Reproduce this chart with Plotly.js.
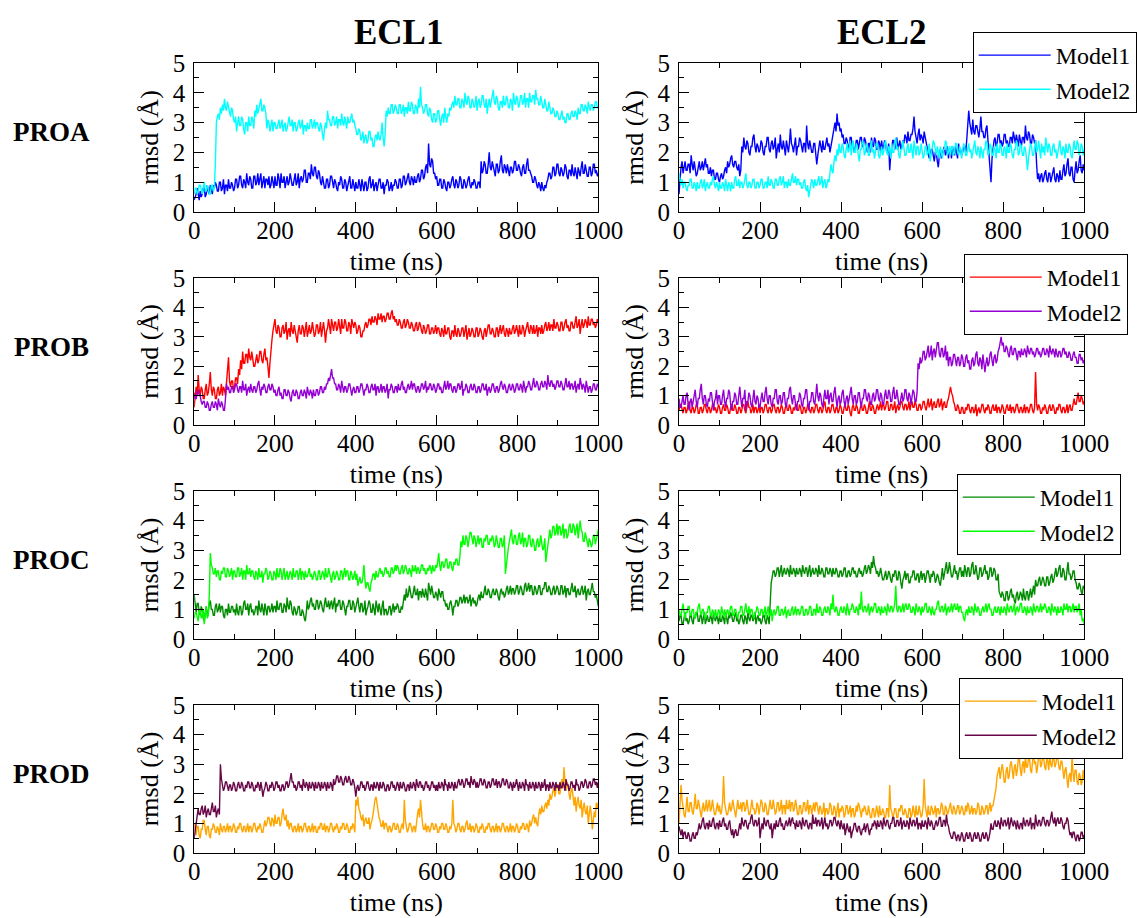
<!DOCTYPE html>
<html><head><meta charset="utf-8">
<script src="https://cdn.plot.ly/plotly-3.0.1.min.js"></script>
<style>html,body{margin:0;padding:0;background:#fff}#chart{width:1137px;height:918px}
#chart text{font-family:"Liberation Serif","Times New Roman",serif !important}</style>
</head><body><div id="chart"></div>
<script>
// time (ns), 2.5 ns sampling
const time = [0,2.5,5,7.5,10,12.5,15,17.5,20,22.5,25,27.5,30,32.5,35,37.5,40,42.5,45,47.5,50,52.5,55,57.5,60,62.5,65,67.5,70,72.5,75,77.5,80,82.5,85,87.5,90,92.5,95,97.5,
100,102.5,105,107.5,110,112.5,115,117.5,120,122.5,125,127.5,130,132.5,135,137.5,140,142.5,145,147.5,150,152.5,155,157.5,160,162.5,165,167.5,170,172.5,175,177.5,180,182.5,185,187.5,190,192.5,195,197.5,
200,202.5,205,207.5,210,212.5,215,217.5,220,222.5,225,227.5,230,232.5,235,237.5,240,242.5,245,247.5,250,252.5,255,257.5,260,262.5,265,267.5,270,272.5,275,277.5,280,282.5,285,287.5,290,292.5,295,297.5,
300,302.5,305,307.5,310,312.5,315,317.5,320,322.5,325,327.5,330,332.5,335,337.5,340,342.5,345,347.5,350,352.5,355,357.5,360,362.5,365,367.5,370,372.5,375,377.5,380,382.5,385,387.5,390,392.5,395,397.5,
400,402.5,405,407.5,410,412.5,415,417.5,420,422.5,425,427.5,430,432.5,435,437.5,440,442.5,445,447.5,450,452.5,455,457.5,460,462.5,465,467.5,470,472.5,475,477.5,480,482.5,485,487.5,490,492.5,495,497.5,
500,502.5,505,507.5,510,512.5,515,517.5,520,522.5,525,527.5,530,532.5,535,537.5,540,542.5,545,547.5,550,552.5,555,557.5,560,562.5,565,567.5,570,572.5,575,577.5,580,582.5,585,587.5,590,592.5,595,597.5,
600,602.5,605,607.5,610,612.5,615,617.5,620,622.5,625,627.5,630,632.5,635,637.5,640,642.5,645,647.5,650,652.5,655,657.5,660,662.5,665,667.5,670,672.5,675,677.5,680,682.5,685,687.5,690,692.5,695,697.5,
700,702.5,705,707.5,710,712.5,715,717.5,720,722.5,725,727.5,730,732.5,735,737.5,740,742.5,745,747.5,750,752.5,755,757.5,760,762.5,765,767.5,770,772.5,775,777.5,780,782.5,785,787.5,790,792.5,795,797.5,
800,802.5,805,807.5,810,812.5,815,817.5,820,822.5,825,827.5,830,832.5,835,837.5,840,842.5,845,847.5,850,852.5,855,857.5,860,862.5,865,867.5,870,872.5,875,877.5,880,882.5,885,887.5,890,892.5,895,897.5,
900,902.5,905,907.5,910,912.5,915,917.5,920,922.5,925,927.5,930,932.5,935,937.5,940,942.5,945,947.5,950,952.5,955,957.5,960,962.5,965,967.5,970,972.5,975,977.5,980,982.5,985,987.5,990,992.5,995,997.5,1000];

// PROA
const proaEcl1Model1 = [0.4,0.5,0.6,0.8,0.5,0.4,0.7,0.5,0.6,0.8,0.8,0.5,0.6,0.9,0.7,0.6,0.9,0.7,0.6,0.9,0.8,1.0,0.9,0.7,0.7,1.0,1.0,0.7,0.8,1.1,0.6,0.9,0.9,0.7,1.1,0.8,0.8,1.0,0.9,0.7,
0.8,1.1,1.1,0.8,0.9,1.2,1.2,0.9,0.8,1.1,1.0,0.8,1.3,1.0,0.9,1.2,1.1,0.8,0.8,1.2,1.2,0.9,1.0,1.3,0.9,1.1,1.3,0.8,1.0,1.2,0.8,1.1,1.1,0.9,1.2,0.8,0.9,1.2,1.0,0.8,
1.2,0.9,0.9,1.3,1.1,0.8,1.3,1.0,1.0,1.2,0.8,1.1,1.2,0.9,1.0,1.3,1.1,0.9,0.9,1.2,1.3,0.9,1.0,1.3,0.8,1.1,1.2,1.0,1.1,1.4,1.4,1.0,1.0,1.3,1.3,1.1,1.6,1.3,1.2,1.5,
1.5,1.2,1.1,1.4,1.3,1.0,0.9,1.2,1.0,0.8,0.8,1.1,1.1,0.8,0.9,1.2,1.2,0.9,0.8,1.1,1.0,0.8,0.7,1.0,0.9,1.2,1.1,0.8,0.8,1.1,1.0,0.7,0.9,1.1,1.2,0.8,0.8,1.1,0.9,0.7,
1.0,0.8,0.8,1.1,0.9,0.7,1.1,0.8,0.7,1.0,1.0,0.7,0.8,1.1,1.2,0.8,0.9,1.1,0.7,0.9,1.0,0.7,0.9,1.1,1.1,0.8,0.8,1.0,0.6,0.9,0.9,1.1,1.0,0.7,0.8,1.0,0.7,0.9,0.9,1.1,
1.0,0.8,0.8,1.1,1.1,0.8,0.9,1.2,1.2,0.9,1.0,1.2,1.3,1.0,0.9,1.2,1.1,0.9,1.2,1.0,1.0,1.2,1.3,1.0,1.1,1.4,1.4,1.1,1.2,1.5,1.6,1.3,2.3,1.6,1.5,1.8,1.7,1.3,1.3,1.1,
1.2,0.9,0.9,1.1,1.1,0.8,0.8,1.1,1.0,0.8,0.7,1.0,1.0,0.8,0.9,1.1,1.2,0.9,0.8,1.1,1.0,0.8,0.9,1.2,1.1,0.8,0.8,1.1,1.0,0.8,0.9,1.1,1.2,0.9,0.8,1.0,0.9,1.1,1.0,0.8,
0.8,1.0,1.0,0.8,1.7,1.3,1.4,1.7,1.6,1.3,1.3,1.6,2.0,1.5,1.4,1.7,1.5,1.3,1.2,1.6,1.6,1.3,1.4,1.7,1.9,1.4,1.3,1.6,1.5,1.3,1.6,1.4,1.2,1.5,1.5,1.3,1.4,1.7,1.7,1.4,
1.4,1.6,1.5,1.3,1.2,1.5,1.6,1.3,1.3,1.6,1.8,1.4,1.4,1.3,1.2,1.0,1.0,1.2,1.1,0.9,0.8,1.0,0.9,0.7,1.0,0.8,0.7,0.9,0.8,1.0,1.1,1.3,1.3,1.1,1.2,1.5,1.5,1.2,1.3,1.6,
1.6,1.3,1.2,1.5,1.4,1.2,1.3,1.6,1.5,1.2,1.1,1.4,1.4,1.2,1.6,1.3,1.2,1.5,1.3,1.1,1.5,1.3,1.2,1.5,1.7,1.3,1.3,1.6,1.4,1.2,1.2,1.5,1.5,1.2,1.3,1.6,1.6,1.3,1.4,1.2,1.3];
const proaEcl1Model2 = [0.6,0.8,0.8,0.6,0.7,0.9,0.9,0.7,0.6,0.8,1.0,0.7,0.7,0.9,0.8,0.6,0.6,0.9,0.9,0.7,0.8,1.6,3.0,3.2,3.3,3.1,3.5,3.3,3.6,3.4,3.8,3.5,3.4,3.7,3.5,3.3,3.2,3.5,3.4,3.1,
3.0,3.2,2.7,3.0,3.2,2.9,2.9,3.2,3.1,2.8,2.6,3.0,3.0,2.7,3.2,2.9,2.9,3.2,3.1,2.8,3.4,3.2,3.6,3.3,3.5,3.7,3.8,3.4,3.4,3.6,3.5,3.3,2.8,3.1,3.0,2.7,2.9,3.1,2.7,3.0,
3.0,2.8,2.8,3.0,3.1,2.8,2.9,3.1,2.7,2.9,3.0,2.7,2.8,3.0,3.2,2.9,2.9,3.1,2.7,3.0,3.0,2.7,2.8,3.0,3.1,2.8,2.9,3.1,2.6,2.9,2.9,2.7,3.0,2.8,2.8,3.1,3.1,2.8,2.9,3.1,
2.8,3.0,3.0,2.8,2.7,3.0,2.9,2.6,2.4,2.8,3.0,2.8,3.4,3.1,3.1,2.9,2.9,3.2,3.2,2.9,3.0,3.2,2.8,3.1,3.1,2.9,3.3,3.0,2.9,3.2,3.0,2.8,3.2,3.0,3.0,3.2,3.3,3.0,3.1,2.9,
2.8,2.6,2.6,2.8,2.7,2.4,2.5,2.7,2.3,2.5,2.6,2.3,2.4,2.7,2.7,2.4,2.5,2.2,2.2,2.5,2.6,2.4,2.7,2.5,2.4,2.6,3.0,2.5,2.2,2.6,3.4,3.2,3.5,3.3,3.3,3.6,3.6,3.3,3.4,3.6,
3.5,3.3,3.3,3.6,3.6,3.3,3.4,3.6,3.2,3.5,3.5,3.3,3.7,3.4,3.4,3.7,3.6,3.3,3.3,3.6,3.5,3.3,3.8,3.5,4.2,3.6,3.5,3.3,3.4,3.6,3.6,3.3,3.2,3.5,3.4,3.1,3.0,3.3,3.3,3.0,
3.1,3.4,3.4,3.1,2.9,3.2,3.3,3.0,3.5,3.2,3.0,3.3,3.2,3.5,3.4,3.6,3.7,3.5,3.9,3.6,3.6,3.8,3.8,3.5,3.5,3.8,3.7,3.5,4.0,3.7,3.6,3.9,3.8,3.5,3.5,3.8,3.7,3.5,3.6,3.9,
3.4,3.7,3.8,3.5,3.6,3.9,3.9,3.6,3.5,3.8,3.3,3.6,3.8,3.5,3.7,4.0,4.1,3.7,3.6,3.9,3.8,3.5,3.4,3.7,3.7,3.5,3.9,3.6,3.6,3.9,3.8,3.5,3.5,3.8,3.7,3.4,4.0,3.7,3.6,3.9,
3.8,3.5,3.6,3.9,3.9,3.6,3.7,4.0,3.5,3.8,3.8,3.5,4.0,3.7,3.7,3.9,3.9,3.6,4.1,3.8,3.8,3.6,3.6,3.9,3.7,3.5,3.5,3.8,3.6,3.4,3.4,3.7,3.5,3.3,3.3,3.5,3.4,3.2,3.2,3.4,
3.3,3.1,3.1,3.3,3.4,3.1,3.2,3.0,3.0,3.3,3.3,3.1,3.1,3.3,3.4,3.2,3.2,3.4,3.3,3.1,3.5,3.3,3.3,3.6,3.6,3.4,3.4,3.6,3.5,3.3,3.7,3.5,3.4,3.6,3.6,3.4,3.5,3.7,3.7,3.5,3.5];
const proaEcl2Model1 = [0.6,1.2,1.5,1.7,1.3,1.5,1.7,1.4,1.4,1.6,1.6,1.3,1.9,1.6,1.4,1.7,1.5,1.2,1.3,1.6,1.7,1.4,1.5,1.7,1.4,1.6,1.8,1.5,1.6,1.3,1.3,1.5,1.2,1.4,1.4,1.1,1.1,1.3,1.3,1.1,
1.0,1.2,1.3,1.1,1.2,1.4,1.5,1.3,1.7,1.5,1.6,1.8,1.9,1.6,1.5,1.7,1.7,1.5,1.4,1.6,1.2,1.4,2.2,2.0,2.5,2.2,2.1,2.4,2.3,2.0,1.9,2.2,2.2,2.5,2.6,2.2,2.0,2.3,2.2,2.0,
2.1,2.4,2.3,2.0,1.9,2.2,2.2,2.5,2.5,2.1,2.0,2.3,2.4,2.1,2.2,2.5,1.8,2.1,2.3,2.0,2.6,2.2,2.1,2.4,2.2,1.9,2.4,2.1,2.0,2.3,2.8,2.3,2.2,2.0,2.3,2.5,1.9,2.2,2.2,2.5,
2.4,2.1,2.0,2.3,2.3,2.0,2.9,2.3,2.1,2.4,2.2,2.0,2.0,2.3,2.3,2.0,1.6,1.9,2.1,2.4,2.2,2.0,2.4,2.1,2.1,2.4,2.5,2.2,2.3,2.0,2.2,2.5,2.6,2.8,3.0,2.7,3.3,2.9,3.0,2.7,
2.8,2.5,2.6,2.3,2.3,2.5,2.4,2.1,2.2,2.5,2.5,2.2,2.3,2.0,2.1,2.4,2.4,2.1,2.3,2.5,2.5,2.2,2.2,2.5,2.4,2.1,2.0,2.3,2.3,2.0,2.5,2.2,2.2,2.5,2.4,2.1,2.1,2.4,2.3,2.0,
2.4,2.1,2.2,2.4,2.3,2.0,2.0,2.3,1.4,1.9,2.2,2.4,2.4,2.1,2.3,2.5,2.1,2.3,2.4,2.1,2.2,2.4,2.3,2.6,2.5,2.3,2.7,2.4,2.4,2.6,2.6,2.8,3.2,2.7,2.5,2.3,2.6,2.8,2.4,2.6,
2.5,2.3,2.7,2.5,2.4,2.2,2.0,1.8,1.9,2.1,2.1,1.8,1.7,2.0,2.0,1.7,1.5,1.9,2.1,1.8,1.9,2.1,2.2,1.9,2.0,2.2,1.8,2.1,2.1,1.8,2.2,2.0,1.9,2.2,2.0,1.8,2.3,2.0,2.1,1.9,
2.0,2.2,2.2,2.0,2.4,2.8,3.4,3.0,2.8,2.6,3.1,2.7,2.6,2.9,2.9,2.6,2.5,2.8,3.2,2.7,2.7,2.5,2.5,2.8,2.9,2.4,1.8,1.4,1.0,1.8,2.2,2.4,2.5,2.2,2.3,2.6,2.6,2.3,2.4,2.2,
2.3,2.6,2.6,2.3,2.4,2.2,2.2,2.5,2.5,2.3,2.7,2.4,2.3,2.6,2.4,2.2,2.6,2.3,2.2,2.5,2.5,2.3,2.9,2.5,2.4,2.7,2.6,2.3,2.3,2.6,2.5,2.3,2.4,1.6,1.1,1.3,1.0,1.2,1.3,1.0,
1.1,1.3,1.4,1.1,1.0,1.3,1.3,1.0,1.2,1.4,1.5,1.1,1.0,1.3,1.2,1.0,1.4,1.1,1.1,1.4,1.6,1.2,1.3,1.6,1.8,1.3,1.2,1.5,1.5,1.1,1.0,1.4,1.7,1.3,1.4,1.7,1.9,1.4,1.3,1.6,1.4];
const proaEcl2Model2 = [1.3,1.0,0.9,1.1,0.8,1.0,1.0,0.8,0.7,0.9,0.9,1.1,1.1,0.8,0.8,1.0,0.9,0.7,1.0,0.8,0.8,1.0,1.1,0.8,0.9,1.1,0.7,0.9,1.0,0.8,0.8,1.0,0.9,1.1,1.2,0.9,0.8,1.0,0.9,0.7,
1.0,0.8,0.8,1.0,0.9,0.7,1.1,0.9,0.7,1.0,0.9,0.7,1.0,0.8,0.8,1.1,1.2,0.9,0.9,1.1,0.8,1.0,1.0,0.8,0.9,1.1,1.3,0.9,0.8,1.0,1.0,0.8,0.9,1.1,1.1,0.8,0.8,1.0,1.0,0.8,
0.9,1.1,1.1,0.8,0.8,1.0,1.0,0.8,1.2,0.9,0.9,1.1,1.0,0.8,0.8,1.1,1.1,0.9,0.9,1.1,1.2,0.9,1.0,1.2,0.8,1.0,1.0,0.8,1.1,0.9,0.9,1.1,1.3,1.0,1.0,1.2,0.9,1.1,1.1,0.9,
1.0,0.8,0.8,1.0,1.1,0.8,0.7,0.9,0.5,0.7,0.9,1.1,1.0,0.8,1.1,0.9,0.9,1.1,1.2,0.9,1.0,1.2,0.8,1.0,1.1,0.8,0.9,1.1,1.0,1.3,1.6,1.4,1.3,1.7,1.9,1.7,2.1,1.9,2.3,2.0,
2.0,2.3,2.2,1.9,1.8,2.1,2.3,2.0,2.1,2.4,1.9,2.2,2.4,2.0,2.0,2.3,2.2,1.9,1.7,2.1,2.1,2.4,2.3,1.9,2.0,2.3,2.2,1.9,1.9,2.2,2.4,2.0,2.1,1.8,2.0,2.3,2.3,1.9,1.8,2.1,
2.2,1.9,2.0,2.3,2.4,2.0,1.9,2.2,2.1,1.8,2.3,2.0,2.0,2.3,2.5,2.1,2.2,1.9,1.8,2.1,2.1,2.4,2.2,1.9,1.9,2.2,2.3,2.0,2.0,2.3,2.1,1.8,2.4,2.1,1.9,2.2,2.2,1.9,2.0,2.3,
2.1,1.8,1.9,2.2,2.2,1.9,2.0,2.3,1.7,2.0,2.1,2.4,2.3,2.0,1.9,2.2,2.0,1.8,2.2,2.0,1.8,2.1,2.1,2.4,2.3,1.9,2.0,2.2,1.9,2.2,2.2,1.9,2.0,2.3,2.3,2.0,1.9,2.2,2.1,1.8,
2.0,2.3,2.2,1.9,1.9,2.2,2.3,2.0,2.1,1.8,2.0,2.3,2.4,2.0,1.9,2.2,2.1,1.8,2.2,2.0,1.8,2.1,2.1,2.4,2.3,1.9,2.0,2.3,2.2,1.9,1.9,2.2,2.1,1.8,2.3,2.0,2.0,2.3,2.2,1.9,
1.9,2.2,2.1,1.8,2.3,2.0,2.0,2.3,2.2,1.9,1.8,2.1,2.1,2.4,2.3,1.9,2.0,2.3,2.2,1.9,1.9,2.2,2.1,1.8,1.4,1.8,2.0,2.3,2.2,1.9,1.9,2.2,2.4,2.0,2.1,2.4,2.0,1.8,2.3,2.0,
2.2,1.9,2.5,2.2,2.0,2.3,2.2,1.9,1.9,2.2,2.3,2.0,2.1,1.8,2.0,2.3,2.4,2.0,1.9,2.2,2.1,1.8,2.3,2.0,2.0,2.3,2.2,1.9,1.8,2.1,2.4,2.1,2.1,2.4,2.3,1.9,2.0,2.3,2.2,1.9,2.1];

// PROB
const probEcl1Model1 = [0.6,1.0,1.3,1.0,1.7,1.2,1.0,1.3,1.2,0.9,0.9,1.2,1.4,1.0,1.1,1.4,1.8,1.2,1.0,1.3,1.2,0.9,0.9,1.2,1.3,1.0,1.1,1.4,1.0,1.3,1.2,1.0,1.4,1.9,2.3,1.5,1.3,1.5,1.5,1.2,
1.3,1.6,1.6,1.4,1.9,1.7,2.2,1.9,2.5,2.1,2.1,2.4,2.4,2.1,2.6,2.3,2.2,2.5,2.3,2.0,2.0,2.3,2.4,2.1,2.2,2.5,2.5,2.2,2.1,2.4,2.6,2.2,2.3,2.0,1.6,2.1,2.6,2.9,3.2,3.5,
3.6,3.2,3.1,3.4,3.3,3.0,3.0,3.3,3.4,3.1,3.2,3.5,2.9,3.2,3.3,3.0,3.5,3.2,3.1,3.4,3.2,2.9,2.8,3.2,3.4,3.1,3.1,3.4,3.3,3.0,3.2,3.5,3.0,3.3,3.4,3.1,3.2,3.5,3.3,3.0,
3.1,3.4,3.4,3.1,3.2,3.5,3.0,3.3,3.5,3.2,2.8,3.2,3.3,3.6,3.4,3.1,3.6,3.3,3.2,3.5,3.5,3.2,3.3,3.6,3.4,3.1,3.6,3.3,3.3,3.6,3.5,3.2,3.2,3.5,3.4,3.1,3.6,3.4,3.3,3.5,
3.4,3.1,3.2,3.4,3.3,3.0,3.0,3.2,3.2,3.4,3.5,3.3,3.4,3.6,3.6,3.4,3.7,3.5,3.5,3.7,3.6,3.4,3.8,3.6,3.6,3.8,3.5,3.7,3.7,3.5,3.6,3.8,3.8,3.6,3.6,3.8,3.9,3.6,3.7,3.5,
3.6,3.4,3.4,3.6,3.5,3.3,3.3,3.5,3.6,3.3,3.4,3.6,3.5,3.3,3.3,3.5,3.4,3.2,3.2,3.4,3.5,3.2,3.3,3.5,3.4,3.2,3.1,3.4,3.3,3.1,3.2,3.4,3.4,3.1,3.1,3.3,3.3,3.1,3.2,3.4,
3.1,3.3,3.3,3.1,3.0,3.3,3.2,3.0,3.4,3.1,3.1,3.3,3.3,3.0,2.9,3.2,3.2,3.0,3.4,3.1,3.0,3.3,3.2,3.0,3.1,3.3,3.3,3.0,3.2,3.4,2.9,3.2,3.3,3.0,3.1,3.3,3.2,3.0,3.0,3.3,
3.3,3.0,3.1,3.3,3.2,3.0,2.9,3.2,3.3,3.0,3.2,3.4,3.4,3.1,3.1,3.3,3.2,3.0,3.0,3.3,3.3,3.0,3.2,3.4,3.1,3.3,3.4,3.1,3.0,3.3,3.2,3.0,3.3,3.1,3.1,3.3,3.4,3.1,3.2,3.4,
3.2,3.0,3.4,3.1,3.1,3.4,3.3,3.0,3.2,3.4,3.5,3.2,3.1,3.4,3.3,3.1,3.4,3.1,3.2,3.4,3.0,3.3,3.3,3.1,3.4,3.1,3.2,3.4,3.5,3.2,3.3,3.5,3.2,3.4,3.4,3.2,3.6,3.3,3.3,3.5,
3.4,3.2,3.2,3.5,3.5,3.2,3.3,3.5,3.6,3.3,3.4,3.2,3.2,3.5,3.5,3.3,3.3,3.5,3.7,3.3,3.4,3.6,3.1,3.4,3.6,3.3,3.4,3.6,3.5,3.3,3.7,3.4,3.4,3.6,3.6,3.4,3.5,3.3,3.4,3.6,3.5];
const probEcl1Model2 = [1.1,0.9,0.9,1.1,1.2,1.0,1.0,0.8,0.7,0.8,0.8,0.6,0.6,0.8,0.7,0.5,0.5,0.7,0.8,0.6,0.6,0.8,0.7,0.5,0.9,0.7,0.6,0.8,0.7,0.5,0.5,0.9,1.4,1.2,1.3,1.1,1.1,1.3,1.3,1.1,
1.2,1.4,1.4,1.2,1.1,1.3,1.3,1.1,1.5,1.2,1.2,1.4,1.0,1.2,1.3,1.1,1.4,1.2,1.1,1.3,1.3,1.1,1.2,1.4,1.5,1.2,1.0,1.3,1.2,1.4,1.3,1.1,1.1,1.3,1.4,1.2,1.2,1.4,1.3,1.1,
1.2,1.0,1.0,1.2,1.3,1.0,1.1,0.9,0.9,1.2,1.2,1.0,1.0,1.2,1.1,0.9,0.8,1.1,1.2,1.0,1.0,1.2,1.1,0.9,0.9,1.1,1.2,1.0,1.0,1.2,1.1,0.9,1.3,1.1,1.0,1.2,1.1,0.9,1.2,1.0,
1.0,1.2,1.2,1.0,1.1,1.3,1.3,1.1,1.1,1.3,1.2,1.4,1.4,1.6,1.5,1.7,1.9,1.6,1.6,1.4,1.4,1.2,1.2,1.4,1.3,1.1,1.5,1.3,1.1,1.3,1.3,1.1,1.2,1.4,1.4,1.2,1.0,1.2,1.3,1.1,
1.1,1.3,1.3,1.1,1.2,1.4,1.4,1.2,1.0,1.2,1.2,1.4,1.3,1.1,1.1,1.3,1.4,1.2,1.2,1.4,1.0,1.3,1.3,1.1,1.2,1.4,1.1,1.3,1.3,1.1,1.2,1.4,0.9,1.2,1.2,1.4,1.3,1.1,1.1,1.3,
1.3,1.1,1.4,1.2,1.2,1.4,1.5,1.2,1.3,1.1,1.1,1.3,1.4,1.2,1.3,1.5,1.2,1.4,1.4,1.2,1.1,1.3,1.3,1.1,1.2,1.4,1.4,1.2,1.3,1.5,1.1,1.3,1.2,1.4,1.4,1.2,1.2,1.4,1.3,1.1,
1.2,1.4,1.4,1.2,1.3,1.1,1.1,1.3,1.5,1.2,1.3,1.5,1.2,1.4,1.4,1.2,1.1,1.3,1.3,1.1,1.2,1.4,1.4,1.2,1.3,1.5,1.0,1.2,1.2,1.4,1.3,1.1,1.1,1.3,1.4,1.2,1.2,1.4,1.3,1.1,
1.1,1.3,1.3,1.1,1.2,1.4,1.4,1.2,1.2,1.4,1.0,1.2,1.3,1.1,1.2,1.4,1.4,1.2,1.1,1.3,1.3,1.1,1.2,1.4,1.5,1.3,1.2,1.4,1.3,1.1,1.1,1.3,1.4,1.2,1.2,1.4,1.3,1.1,1.2,1.4,
1.4,1.2,1.2,1.4,1.3,1.1,1.5,1.3,1.1,1.3,1.3,1.5,1.4,1.2,1.2,1.4,1.6,1.3,1.3,1.5,1.4,1.2,1.2,1.4,1.5,1.3,1.3,1.5,1.4,1.2,1.7,1.4,1.3,1.5,1.5,1.3,1.4,1.2,1.3,1.5,
1.5,1.3,1.3,1.5,1.4,1.2,1.2,1.4,1.6,1.3,1.3,1.5,1.2,1.4,1.4,1.2,1.3,1.5,1.1,1.3,1.4,1.2,1.6,1.4,1.2,1.4,1.3,1.1,1.5,1.3,1.1,1.3,1.3,1.1,1.2,1.4,1.4,1.2,1.2,1.4,1.3];
const probEcl2Model1 = [0.5,0.7,0.7,0.5,0.4,0.6,0.6,0.4,0.5,0.7,0.8,0.5,0.4,0.6,0.6,0.4,0.5,0.7,0.7,0.4,0.4,0.6,0.6,0.4,0.5,0.7,0.7,0.5,0.4,0.6,0.6,0.4,0.5,0.7,0.7,0.5,0.6,0.4,0.5,0.7,
0.6,0.4,0.4,0.6,0.7,0.5,0.5,0.7,0.6,0.4,0.4,0.6,0.7,0.5,0.5,0.7,0.6,0.4,0.4,0.6,0.6,0.4,0.5,0.7,0.7,0.5,0.4,0.6,0.8,0.6,0.6,0.4,0.5,0.7,0.4,0.6,0.6,0.4,0.5,0.7,
0.4,0.6,0.6,0.4,0.5,0.7,0.7,0.5,0.4,0.6,0.6,0.4,0.5,0.7,0.7,0.5,0.4,0.6,0.6,0.4,0.5,0.7,0.6,0.4,0.4,0.6,0.7,0.5,0.5,0.7,0.6,0.4,0.4,0.6,0.5,0.7,0.7,0.5,0.5,0.7,
0.6,0.4,0.4,0.6,0.6,0.4,0.5,0.7,0.7,0.5,0.4,0.6,0.6,0.4,0.5,0.7,0.7,0.5,0.4,0.6,0.6,0.4,0.5,0.7,0.8,0.5,0.4,0.6,0.6,0.4,0.5,0.7,0.7,0.5,0.4,0.6,0.6,0.4,0.5,0.7,
0.6,0.4,0.4,0.6,0.7,0.5,0.5,0.7,0.6,0.4,0.3,0.6,0.7,0.5,0.5,0.7,0.6,0.4,0.4,0.6,0.7,0.5,0.5,0.7,0.6,0.4,0.4,0.6,0.8,0.5,0.5,0.7,0.6,0.4,0.4,0.6,0.7,0.5,0.6,0.8,
0.5,0.7,0.7,0.5,0.6,0.8,0.8,0.5,0.5,0.7,0.7,0.5,0.6,0.8,0.4,0.6,0.7,0.5,0.6,0.8,0.8,0.6,0.5,0.7,0.7,0.5,0.6,0.8,0.5,0.7,0.8,0.6,0.6,0.8,0.7,0.5,0.5,0.7,0.7,0.5,
0.6,0.8,0.8,0.6,0.5,0.7,0.9,0.6,0.7,0.9,0.5,0.7,0.8,0.6,0.6,0.8,0.9,0.6,0.7,0.9,0.5,0.7,0.8,0.6,0.6,0.8,0.9,1.1,1.3,1.1,1.0,0.8,0.7,0.5,0.5,0.7,0.6,0.4,0.4,0.6,
0.6,0.4,0.4,0.6,0.5,0.7,0.7,0.5,0.4,0.6,0.6,0.4,0.5,0.7,0.3,0.5,0.6,0.4,0.5,0.7,0.7,0.5,0.4,0.6,0.5,0.7,0.6,0.4,0.4,0.6,0.7,0.5,0.5,0.7,0.4,0.6,0.6,0.4,0.5,0.7,
0.6,0.4,0.4,0.6,0.7,0.5,0.5,0.7,0.4,0.6,0.6,0.4,0.5,0.7,0.7,0.5,0.4,0.6,0.6,0.4,0.5,0.7,0.4,0.6,0.6,0.4,0.5,0.7,0.7,0.5,0.4,0.6,1.8,0.7,0.5,0.7,0.6,0.4,0.4,0.6,
0.5,0.7,0.6,0.4,0.4,0.6,0.7,0.5,0.5,0.7,0.6,0.4,0.4,0.6,0.5,0.7,0.7,0.5,0.4,0.6,0.6,0.4,0.5,0.7,0.4,0.6,0.7,0.5,0.5,0.7,0.9,0.7,0.7,0.9,1.1,0.8,0.8,1.0,0.9,0.7,0.8];
const probEcl2Model2 = [0.9,0.6,0.6,0.9,1.0,0.7,0.7,1.0,1.1,0.7,0.5,0.8,0.9,0.6,0.8,1.1,1.2,0.8,0.6,0.9,0.9,1.2,1.4,0.9,0.7,1.0,1.0,0.7,0.6,0.9,0.8,1.1,1.1,0.8,0.5,0.8,0.9,1.2,0.7,1.0,
1.0,0.7,0.7,1.0,1.2,0.8,0.6,0.9,0.9,1.2,1.1,0.7,0.5,0.8,0.8,1.1,1.0,0.7,0.7,1.0,1.3,0.9,0.6,0.9,0.9,1.2,0.5,0.8,0.8,1.1,1.0,0.7,0.6,0.9,1.2,0.8,0.7,1.0,0.9,0.6,
0.6,0.9,1.1,0.8,0.8,1.1,1.3,0.9,0.7,1.0,1.0,0.7,0.6,0.9,0.9,1.2,1.2,0.8,0.7,1.0,1.0,0.7,0.8,1.1,1.1,0.7,0.6,0.9,0.9,1.2,1.3,0.9,0.7,1.0,1.0,0.7,0.5,0.8,0.8,1.1,
1.0,0.7,0.6,0.9,0.9,1.2,1.2,0.8,0.5,0.8,0.8,1.1,1.1,0.8,0.7,1.0,1.4,1.0,0.8,1.1,1.0,0.7,0.6,0.9,1.2,0.9,0.9,1.2,0.7,1.0,1.1,0.8,0.8,1.1,1.3,0.9,0.6,0.9,1.0,0.7,
0.8,1.1,1.2,0.8,0.6,0.9,1.0,0.7,0.9,1.2,1.3,0.9,0.7,1.0,1.0,0.7,0.8,1.1,1.1,0.8,0.6,0.9,0.9,1.2,1.2,0.9,0.8,1.1,1.0,0.7,0.7,1.0,1.1,0.8,0.9,1.2,1.2,0.9,0.8,1.1,
1.0,0.7,0.7,1.0,1.2,0.9,0.9,1.2,1.1,0.8,0.8,1.1,1.3,0.9,0.9,1.2,1.0,0.7,0.7,1.0,1.1,0.8,0.9,1.2,1.2,0.9,0.8,1.1,1.0,0.7,0.9,1.2,1.1,0.8,0.8,1.1,2.1,1.9,2.3,2.1,
2.2,2.5,2.5,2.2,2.3,2.6,2.7,2.3,2.4,2.7,2.2,2.5,2.6,2.3,2.5,2.8,2.8,2.4,2.3,2.6,2.6,2.3,2.4,2.7,2.2,2.5,2.0,2.3,2.3,2.0,2.1,2.4,2.4,2.1,2.0,2.3,2.3,2.0,2.1,2.4,
2.3,2.0,2.0,2.3,2.4,2.1,2.2,1.9,1.9,2.2,2.3,2.0,2.1,2.4,2.5,2.1,2.0,2.3,2.2,1.9,2.4,2.1,1.8,2.1,2.3,2.0,2.1,2.4,2.5,2.2,2.0,2.3,2.4,2.1,2.2,2.5,2.6,2.8,3.0,2.7,
2.8,2.5,2.5,2.7,2.6,2.4,2.3,2.6,2.7,2.4,2.4,2.6,2.6,2.4,2.2,2.5,2.5,2.3,2.6,2.4,2.4,2.6,2.5,2.3,2.7,2.5,2.4,2.6,2.6,2.4,2.5,2.3,2.4,2.6,2.6,2.4,2.5,2.3,2.4,2.6,
2.6,2.4,2.4,2.6,2.5,2.3,2.7,2.5,2.4,2.6,2.5,2.3,2.6,2.4,2.3,2.5,2.5,2.3,2.4,2.6,2.6,2.4,2.5,2.3,2.3,2.5,2.4,2.2,2.2,2.4,2.5,2.3,2.3,2.1,2.1,2.4,2.4,2.2,2.3,2.1,2.2];

// PROC
const procEcl1Model1 = [1.5,1.1,0.9,1.2,1.2,0.9,0.8,1.1,1.0,0.7,0.6,0.9,1.1,0.8,0.9,1.2,1.3,1.0,1.0,0.8,0.8,1.1,1.2,0.9,1.0,1.2,0.9,1.1,1.1,0.8,0.7,1.0,1.0,0.8,1.2,0.9,0.9,1.1,1.1,0.9,
1.0,0.8,1.2,0.9,0.8,1.1,1.1,0.8,0.9,1.2,1.3,1.0,1.0,1.2,0.8,1.1,1.2,0.9,1.0,0.8,0.9,1.1,1.1,0.8,1.3,1.0,0.9,1.2,1.0,0.8,1.2,1.0,0.8,1.1,1.1,0.9,1.0,1.2,0.9,1.1,
1.1,0.9,1.3,1.0,1.0,1.2,1.2,0.9,0.9,1.2,1.1,0.9,1.4,1.1,1.0,1.3,1.2,0.9,0.8,1.1,1.0,0.8,0.9,1.1,1.1,0.8,0.8,1.0,0.9,0.7,0.6,0.9,1.3,1.0,1.1,1.3,1.4,1.1,1.2,1.0,
1.0,1.3,1.3,1.0,1.1,1.3,1.2,1.0,0.9,1.2,1.4,1.1,1.1,1.3,1.0,1.2,1.3,1.0,1.2,1.4,0.9,1.2,1.1,1.3,1.3,1.0,1.0,1.3,1.2,0.9,0.8,1.1,1.1,1.3,1.3,1.0,1.0,1.3,1.2,0.9,
1.1,1.3,1.4,1.1,0.9,1.2,1.2,0.9,1.0,1.3,0.8,1.0,1.1,1.3,1.2,0.9,0.9,1.2,1.0,0.8,1.3,1.0,0.9,1.2,1.0,0.8,1.1,1.3,0.8,1.0,1.0,0.8,0.9,1.1,1.1,0.8,1.0,1.2,0.9,1.1,
1.0,1.2,1.1,0.9,0.9,1.1,1.0,1.2,1.5,1.3,1.7,1.4,1.5,1.8,1.6,1.4,1.4,1.7,1.8,1.5,1.5,1.7,1.3,1.6,1.6,1.4,1.7,1.5,1.4,1.7,1.5,1.3,1.9,1.6,1.5,1.8,1.6,1.4,1.4,1.6,
1.5,1.3,1.7,1.5,1.4,1.6,1.6,1.3,1.3,1.1,1.2,1.0,1.0,1.2,1.3,1.1,0.8,1.1,1.1,1.3,1.3,1.1,1.2,1.4,1.4,1.2,1.3,1.5,1.2,1.4,1.4,1.2,1.3,1.5,1.1,1.3,1.4,1.2,1.3,1.1,
1.2,1.4,1.5,1.3,1.6,1.4,1.4,1.6,1.8,1.5,1.5,1.7,1.6,1.4,1.4,1.6,1.7,1.5,1.5,1.7,1.6,1.4,1.3,1.6,1.7,1.5,1.6,1.4,1.5,1.7,1.8,1.5,1.6,1.8,1.5,1.7,1.7,1.5,1.6,1.8,
1.8,1.5,1.6,1.8,1.7,1.5,1.5,1.8,1.9,1.6,1.7,1.9,1.6,1.8,1.8,1.5,1.5,1.8,1.7,1.5,1.6,1.8,1.8,1.5,1.5,1.7,1.7,1.9,1.9,1.6,1.6,1.8,1.7,1.5,1.5,1.7,1.8,1.5,1.6,1.8,
1.7,1.5,1.5,1.8,1.8,1.5,1.6,1.8,1.4,1.7,1.7,1.5,1.5,1.7,1.9,1.6,1.6,1.8,1.4,1.6,1.7,1.5,1.5,1.7,1.8,1.5,1.6,1.8,1.3,1.6,1.7,1.5,1.5,1.7,1.9,1.6,1.6,1.4,1.5,1.3,1.1];
const procEcl1Model2 = [0.7,0.9,0.9,0.7,0.6,0.9,1.0,0.7,0.8,1.0,0.5,0.8,1.1,0.7,0.8,1.5,2.9,2.5,2.4,2.2,2.2,2.4,2.1,2.3,2.3,2.0,2.0,2.3,2.2,2.4,2.4,2.1,2.1,2.4,2.3,2.1,2.2,2.4,2.0,2.3,
2.3,2.1,2.1,2.4,2.4,2.1,2.2,2.4,2.0,2.3,2.3,2.0,2.5,2.2,2.2,2.4,2.1,2.3,2.3,2.1,2.0,2.3,2.2,2.0,2.4,2.1,2.1,2.3,1.9,2.2,2.2,2.4,2.3,2.0,2.1,2.3,2.2,2.0,2.0,2.3,
2.2,2.0,2.4,2.1,2.1,2.4,2.3,2.0,2.2,2.4,2.0,2.2,2.3,2.0,2.1,2.3,2.2,2.0,2.4,2.1,2.1,2.3,2.3,2.0,2.2,2.4,2.0,2.3,2.2,2.0,2.3,2.1,2.1,2.3,2.4,2.1,2.2,2.0,2.1,2.3,
2.2,2.0,2.0,2.3,2.3,2.0,2.1,2.3,2.2,2.0,2.4,2.1,2.1,2.4,2.2,2.0,1.9,2.2,2.3,2.0,2.1,2.3,2.2,2.0,2.0,2.3,2.3,2.0,2.2,2.4,2.1,2.3,2.3,2.0,2.0,2.3,2.2,2.0,2.1,2.3,
2.0,2.2,1.8,2.0,2.1,1.9,1.9,2.1,2.5,2.0,1.7,1.9,1.9,1.7,1.6,1.9,2.0,2.2,2.2,2.0,2.3,2.1,2.1,2.3,2.4,2.2,2.3,2.1,2.2,2.4,2.4,2.2,2.3,2.1,2.1,2.4,2.4,2.2,2.3,2.5,
2.3,2.5,2.4,2.2,2.2,2.4,2.5,2.2,2.3,2.5,2.4,2.2,2.2,2.4,2.3,2.1,2.5,2.3,2.3,2.5,2.2,2.4,2.4,2.2,2.3,2.5,2.5,2.3,2.4,2.2,2.2,2.4,2.3,2.5,2.4,2.2,2.5,2.3,2.3,2.5,
2.4,2.6,2.9,2.5,2.3,2.6,2.6,2.4,2.5,2.7,2.7,2.4,2.4,2.6,2.6,2.4,2.3,2.6,2.5,2.7,2.7,2.5,2.5,2.8,3.3,3.1,3.5,3.2,3.2,3.5,3.4,3.1,3.3,3.6,3.6,3.3,3.2,3.5,3.4,3.1,
3.3,3.5,3.2,3.4,3.4,3.1,3.1,3.4,3.3,3.5,3.5,3.2,3.2,3.4,3.3,3.5,3.4,3.1,3.2,3.5,3.3,3.1,3.1,3.4,3.4,3.1,3.2,3.5,2.2,2.6,2.8,3.1,3.3,3.6,3.7,3.3,3.2,3.5,3.5,3.2,
3.2,3.5,3.6,3.2,3.3,3.6,3.1,3.4,3.4,3.1,3.2,3.5,3.5,3.2,3.1,3.4,3.3,3.0,3.0,3.3,3.4,3.1,3.2,3.5,3.3,3.0,3.1,3.4,2.6,2.9,3.0,3.3,3.7,3.4,3.5,3.8,3.8,3.5,3.6,3.9,
3.5,3.8,3.8,3.5,3.6,3.9,3.4,3.7,3.7,3.4,3.5,3.8,3.9,3.6,3.6,3.9,3.8,3.5,3.7,3.9,3.4,3.7,4.0,3.7,3.6,3.3,3.3,3.6,3.4,3.2,3.1,3.4,3.3,3.1,3.2,3.5,3.5,3.2,3.4,3.6,3.7];
const procEcl2Model1 = [0.6,0.8,0.8,0.5,0.5,0.8,0.9,0.6,0.7,0.5,0.6,0.8,0.8,0.6,0.5,0.8,0.7,0.9,0.9,0.6,0.6,0.8,0.8,0.5,0.7,0.9,0.5,0.7,0.8,0.6,0.6,0.8,0.7,0.5,0.9,0.7,0.6,0.8,0.7,0.5,
0.8,0.6,0.6,0.8,0.7,0.5,0.9,0.7,0.5,0.8,0.7,0.9,0.8,0.6,0.6,0.8,0.9,0.6,0.7,0.5,0.6,0.8,0.8,0.6,0.5,0.8,0.7,0.5,0.9,0.7,0.6,0.8,0.8,0.6,0.7,0.9,0.5,0.7,0.8,0.6,
0.7,0.5,0.6,0.8,0.8,0.6,0.5,0.8,0.7,0.5,1.3,1.9,2.1,2.3,2.3,2.1,2.2,2.4,2.4,2.1,2.3,2.5,2.1,2.3,2.4,2.2,2.2,2.4,2.3,2.1,2.5,2.2,2.2,2.4,2.3,2.1,2.4,2.2,2.2,2.4,
2.3,2.1,2.5,2.3,2.2,2.4,2.4,2.1,2.3,2.5,2.1,2.3,2.4,2.2,2.2,2.4,2.3,2.1,2.5,2.2,2.2,2.4,2.3,2.1,2.1,2.4,2.4,2.2,2.2,2.4,2.3,2.1,2.4,2.2,2.2,2.4,2.3,2.1,2.1,2.3,
2.3,2.1,2.2,2.4,2.4,2.1,2.1,2.3,2.3,2.1,2.2,2.4,2.4,2.2,2.3,2.1,2.1,2.3,2.4,2.2,2.3,2.1,2.2,2.4,2.5,2.2,2.3,2.5,2.4,2.2,2.6,2.4,2.8,2.5,2.4,2.2,2.3,2.1,2.2,2.4,
2.2,2.0,2.0,2.2,2.3,2.0,2.1,2.3,2.2,2.0,1.9,2.2,2.1,2.3,2.3,2.0,2.0,2.3,2.2,1.9,1.7,2.0,2.1,2.3,2.0,2.2,2.2,1.9,1.9,2.1,2.1,2.3,2.3,2.0,2.0,2.2,2.2,1.9,2.1,2.3,
2.0,2.2,2.2,1.9,2.1,2.3,2.3,2.0,1.9,2.2,2.1,2.3,2.2,1.9,2.0,2.2,2.1,1.9,1.8,2.1,2.4,2.0,2.2,2.5,2.6,2.2,2.3,2.6,2.4,2.1,2.1,2.4,2.5,2.2,2.3,2.0,2.2,2.4,2.4,2.1,
2.3,2.1,2.5,2.2,2.1,2.4,2.4,2.1,2.2,2.5,2.6,2.2,2.2,2.5,2.3,2.0,2.1,2.4,2.4,2.1,2.2,2.4,2.5,2.2,2.3,2.0,2.1,2.4,2.4,2.1,2.2,2.4,2.3,2.0,2.0,2.2,1.6,1.5,1.4,1.6,
1.5,1.3,1.3,1.6,1.6,1.3,1.4,1.6,1.7,1.4,1.5,1.3,1.2,1.5,1.6,1.3,1.4,1.6,1.5,1.3,1.7,1.4,1.3,1.6,1.6,1.3,1.5,1.7,1.4,1.6,1.8,1.5,2.0,1.8,1.8,2.0,2.1,1.8,1.9,2.1,
2.0,1.8,1.8,2.1,2.1,1.8,1.9,2.1,2.2,1.9,2.0,2.2,2.4,2.1,2.2,2.4,2.5,2.1,2.1,2.4,2.3,2.0,2.0,2.3,2.6,2.2,2.2,2.0,2.1,2.3,2.3,2.0,1.9,1.7,1.7,1.9,1.8,1.6,1.5,1.8,1.7];
const procEcl2Model2 = [1.0,0.8,0.8,1.0,1.2,0.9,0.7,0.9,0.9,1.1,1.1,0.8,0.8,1.0,1.0,0.8,0.7,0.9,0.9,1.1,1.2,0.9,0.8,1.0,1.0,0.8,0.7,0.9,0.9,1.1,1.1,0.8,0.8,1.0,0.9,0.7,1.0,0.8,0.8,1.0,
0.9,0.7,1.1,0.9,0.8,1.0,0.7,0.9,1.0,0.8,0.9,1.1,1.1,0.8,0.8,1.0,1.0,0.8,0.7,0.9,0.9,1.1,1.1,0.8,0.8,1.0,1.2,0.9,0.9,1.1,0.8,1.0,1.0,0.8,0.7,0.9,0.9,1.1,1.0,0.8,
0.8,1.0,1.0,0.8,0.9,1.1,0.7,0.9,1.1,0.8,0.8,1.0,0.6,0.9,1.0,0.8,0.9,1.1,1.1,0.8,0.8,1.0,1.0,0.8,0.9,1.1,0.7,0.9,1.0,0.8,0.8,1.0,1.1,0.8,0.9,1.1,0.8,1.0,1.0,0.8,
0.9,1.1,1.1,0.8,0.8,1.0,1.0,0.8,0.9,1.1,1.1,0.8,0.8,1.0,1.0,0.8,1.2,0.9,0.9,1.1,1.0,0.8,0.8,1.0,1.1,0.9,0.9,1.1,1.0,0.8,1.2,1.0,1.5,1.0,0.9,1.1,1.0,0.8,0.8,1.0,
1.1,0.9,0.9,1.1,1.0,0.8,1.2,1.0,0.8,1.0,1.0,1.2,1.1,0.9,0.9,1.1,1.0,0.8,1.2,1.0,1.6,1.0,0.9,1.1,1.1,0.9,1.0,1.2,0.8,1.0,1.1,0.9,1.0,1.2,1.2,0.9,0.9,1.1,1.0,0.8,
1.1,0.9,0.9,1.1,1.0,0.8,1.2,1.0,0.9,1.1,1.1,0.9,1.0,1.2,1.8,1.0,0.9,1.1,1.1,0.9,1.0,1.2,0.9,1.1,1.2,1.0,1.0,1.2,1.1,0.9,0.9,1.1,1.0,0.8,1.2,1.0,0.9,1.1,1.0,0.8,
1.1,0.9,1.0,1.2,1.2,0.9,0.9,1.1,1.0,0.8,1.1,0.9,0.8,1.0,1.0,1.2,1.3,1.0,0.9,1.1,1.1,0.9,1.0,1.2,0.8,1.0,1.1,0.9,1.0,1.2,0.9,1.1,1.2,1.0,1.0,1.2,0.9,1.1,1.1,0.9,
0.9,0.7,0.6,0.9,1.0,0.8,1.1,0.9,0.9,1.1,1.0,0.8,1.2,1.0,0.9,1.1,1.0,0.8,0.8,1.0,1.1,0.9,1.0,1.2,0.9,1.1,1.2,1.0,1.0,0.8,0.8,1.0,1.1,0.9,0.9,1.1,1.0,0.8,1.1,0.9,
0.9,1.1,1.0,0.8,1.2,1.0,0.9,1.1,1.1,0.9,1.0,1.2,0.8,1.0,1.1,0.9,1.0,1.2,1.2,0.9,0.9,1.1,1.0,0.8,1.1,0.9,0.9,1.1,1.0,0.8,1.2,1.0,0.9,1.1,1.1,0.9,1.0,1.2,0.9,1.1,
1.0,1.2,1.1,0.9,0.9,1.1,1.0,0.8,1.2,1.0,0.9,1.1,1.0,0.8,1.1,0.9,0.9,1.1,1.0,0.8,1.2,1.0,1.0,1.2,0.9,1.1,1.1,0.9,1.0,1.2,0.9,1.1,1.1,0.9,1.0,1.2,0.8,1.0,0.6,0.7,0.5];

// PROD
const prodEcl1Model1 = [1.0,0.8,0.6,0.9,0.9,0.6,0.5,0.8,0.8,1.1,1.1,0.8,0.6,0.9,0.9,0.6,0.5,0.8,0.8,1.0,0.9,0.7,0.7,0.9,0.8,0.6,1.0,0.8,0.7,0.9,0.9,0.7,0.8,1.0,0.7,0.9,0.9,0.7,0.8,1.0,
0.9,0.7,0.7,0.9,0.8,1.0,1.0,0.8,0.7,0.9,0.9,0.7,0.8,1.0,0.7,0.9,0.9,0.7,0.8,1.0,1.0,0.8,0.7,0.9,0.8,1.0,0.9,0.7,0.7,0.9,1.1,0.9,1.0,1.2,1.2,1.0,0.9,1.2,1.1,0.9,
1.3,1.0,1.0,1.2,1.2,0.9,1.0,1.3,1.5,1.2,1.1,1.3,0.9,1.1,0.8,1.0,1.0,0.8,0.7,0.9,0.9,0.7,0.8,1.0,0.7,0.9,0.9,0.7,0.8,1.0,1.0,0.8,0.7,0.9,0.9,0.7,0.8,1.0,0.7,0.9,
0.9,0.7,0.7,0.9,0.8,1.0,1.0,0.8,0.8,1.0,0.7,0.9,0.9,0.7,0.8,1.0,1.0,0.8,0.7,0.9,0.8,1.0,0.9,0.7,0.7,0.9,0.8,1.0,1.0,0.8,0.8,1.0,0.9,0.7,0.7,0.9,0.8,1.0,0.9,0.7,
1.8,1.6,1.9,1.5,1.4,1.2,1.1,1.3,0.9,1.1,1.2,1.0,1.0,1.2,0.8,1.0,1.1,1.3,1.6,1.8,1.9,1.6,1.4,1.2,1.1,0.9,0.9,1.1,0.8,1.0,1.0,0.8,0.7,0.9,0.9,0.7,0.8,1.0,1.0,0.8,
0.8,1.0,0.9,0.7,0.7,0.9,1.0,0.8,1.8,1.1,0.9,0.7,0.8,1.0,1.0,0.8,0.7,0.9,0.9,0.7,1.1,1.3,1.5,1.2,1.8,1.2,1.0,0.8,0.8,1.0,0.7,0.9,0.9,0.7,0.8,1.0,1.0,0.8,0.8,1.0,
0.9,0.7,0.7,0.9,0.8,1.0,1.0,0.8,0.8,1.0,0.9,0.7,0.7,0.9,0.8,1.0,1.8,1.0,0.9,0.7,0.8,1.0,1.0,0.8,0.7,0.9,0.9,0.7,0.8,1.0,1.1,0.8,0.8,1.0,0.7,0.9,0.9,0.7,0.8,1.0,
0.9,0.7,0.7,0.9,0.8,1.0,0.9,0.7,0.7,0.9,0.8,1.0,1.0,0.8,0.7,0.9,0.9,0.7,0.8,1.0,0.7,0.9,0.9,0.7,0.8,1.0,1.0,0.8,0.7,0.9,0.9,0.7,0.8,1.0,0.7,0.9,0.9,0.7,0.8,1.0,
0.9,0.7,0.7,0.9,0.8,1.0,1.0,0.8,0.8,1.0,0.9,0.7,1.1,0.9,1.0,1.2,1.3,1.0,1.2,1.0,0.9,1.3,1.5,1.3,1.6,1.4,1.4,1.6,1.7,1.5,1.8,1.6,2.0,1.8,1.9,2.1,2.2,1.9,2.1,2.3,
2.3,2.0,2.0,2.3,2.5,2.2,2.9,2.4,2.1,2.4,2.3,2.0,1.8,2.1,2.2,1.9,1.6,1.9,1.4,1.7,1.9,1.6,1.5,1.8,1.2,1.5,1.7,1.4,1.3,1.6,1.0,1.3,1.6,1.3,0.8,1.1,1.4,1.2,1.7,1.5,1.7];
const prodEcl1Model2 = [0.5,0.8,0.9,1.2,1.5,1.3,1.3,1.5,1.6,1.3,1.4,1.6,1.2,1.4,1.5,1.3,1.3,1.5,1.7,1.4,1.4,1.6,1.2,1.4,1.5,1.3,3.0,2.5,2.3,2.1,2.2,2.4,2.4,2.2,2.1,2.3,2.3,2.1,2.2,2.4,
2.3,2.1,2.1,2.3,2.4,2.2,2.2,2.4,2.3,2.1,2.1,2.3,2.2,2.4,2.4,2.2,2.2,2.4,2.3,2.1,2.1,2.3,2.2,2.4,2.3,2.1,2.4,2.2,1.9,2.1,2.2,2.4,2.3,2.1,2.1,2.3,2.2,2.4,2.3,2.1,
2.2,2.4,2.4,2.2,2.3,2.1,2.1,2.3,2.3,2.1,2.2,2.4,2.4,2.2,2.3,2.5,2.7,2.4,2.4,2.2,2.3,2.1,2.2,2.4,2.4,2.2,2.3,2.1,2.5,2.3,2.2,2.4,2.3,2.1,2.4,2.2,2.2,2.4,2.3,2.1,
2.4,2.2,2.2,2.4,2.3,2.1,2.4,2.2,2.2,2.4,2.3,2.1,2.4,2.2,2.2,2.4,2.3,2.1,2.5,2.3,2.4,2.6,2.6,2.4,2.4,2.6,2.5,2.3,2.3,2.5,2.6,2.4,2.4,2.6,2.5,2.3,2.3,2.5,2.4,2.2,
1.9,2.2,2.3,2.1,2.2,2.4,2.4,2.2,2.3,2.1,2.2,2.4,2.4,2.2,2.1,2.3,2.3,2.1,2.4,2.2,2.2,2.4,2.3,2.1,2.4,2.2,2.2,2.4,2.3,2.1,2.1,2.3,2.3,2.1,2.2,2.4,2.4,2.2,2.3,2.1,
2.2,2.4,2.3,2.1,2.4,2.2,2.2,2.4,2.3,2.1,2.1,2.3,2.3,2.1,2.4,2.2,2.2,2.4,2.3,2.1,2.5,2.3,2.2,2.4,2.4,2.2,2.3,2.1,2.2,2.4,2.4,2.2,2.3,2.1,2.2,2.4,2.4,2.2,2.3,2.1,
2.3,2.1,2.4,2.2,2.2,2.4,2.3,2.1,2.5,2.3,2.3,2.1,2.4,2.2,2.2,2.4,2.3,2.1,2.4,2.2,2.2,2.4,2.5,2.3,2.3,2.5,2.4,2.2,2.3,2.5,2.5,2.3,2.4,2.2,2.6,2.4,2.3,2.5,2.4,2.2,
2.4,2.2,2.3,2.5,2.5,2.3,2.3,2.5,2.4,2.2,2.2,2.4,2.4,2.2,2.3,2.5,2.5,2.3,2.3,2.5,2.2,2.4,2.4,2.2,2.3,2.5,2.5,2.3,2.3,2.5,2.4,2.2,2.2,2.4,2.3,2.1,2.4,2.2,2.3,2.5,
2.3,2.1,2.4,2.2,2.2,2.4,2.3,2.1,2.5,2.3,2.3,2.1,2.4,2.2,2.2,2.4,2.3,2.1,2.4,2.2,2.2,2.4,2.3,2.1,2.4,2.2,2.3,2.5,2.1,2.3,2.3,2.1,2.4,2.2,2.2,2.4,2.3,2.1,2.4,2.2,
2.3,2.1,2.4,2.2,2.2,2.4,2.3,2.1,2.5,2.3,2.3,2.1,2.2,2.4,2.4,2.2,2.3,2.1,2.5,2.3,2.3,2.1,2.2,2.4,2.4,2.2,2.3,2.5,2.4,2.2,2.2,2.4,2.4,2.2,2.3,2.5,2.5,2.3,2.4,2.2,2.4];
const prodEcl2Model1 = [1.0,1.6,2.3,1.8,1.5,1.3,1.2,1.6,1.9,1.4,1.4,1.7,1.7,1.4,1.3,1.6,2.0,1.5,1.5,1.8,1.6,1.3,1.2,1.5,1.7,1.4,1.5,1.8,1.4,1.6,1.8,1.4,1.5,1.8,1.6,1.3,1.3,1.6,1.7,1.4,
1.6,1.3,1.4,1.7,2.6,1.7,1.5,1.3,1.3,1.6,1.7,1.4,1.5,1.8,1.6,1.3,1.2,1.5,1.8,1.5,1.5,1.7,1.4,1.7,1.7,1.4,1.5,1.8,1.6,1.3,1.3,1.6,1.8,1.5,1.5,1.3,1.4,1.7,1.6,1.3,
1.5,1.8,1.7,1.4,1.4,1.7,1.6,1.3,1.3,1.6,1.8,1.5,1.5,1.8,1.6,1.3,1.4,1.7,1.7,1.4,1.5,1.8,1.3,1.6,1.6,1.3,1.8,1.5,1.5,1.8,1.4,1.7,1.7,1.4,1.5,1.8,1.6,1.3,1.3,1.6,
1.6,1.3,1.4,1.7,1.7,1.4,1.5,1.8,1.3,1.6,1.6,1.3,1.5,1.7,1.4,1.7,1.7,1.4,1.3,1.6,1.5,1.3,1.4,1.7,1.2,1.5,1.5,1.3,1.4,1.7,1.6,1.3,1.3,1.6,1.5,1.2,1.4,1.7,1.2,1.5,
1.4,1.6,1.5,1.2,1.3,1.6,1.6,1.3,1.4,1.6,1.2,1.5,1.5,1.2,1.3,1.6,1.4,1.7,1.6,1.3,1.2,1.5,1.4,1.6,1.5,1.3,1.3,1.6,1.4,1.2,1.2,1.5,1.5,1.2,1.3,1.6,1.4,1.2,1.6,1.3,
1.3,1.5,1.4,1.2,1.2,1.5,1.5,1.2,2.3,1.5,1.4,1.2,1.3,1.5,1.5,1.2,1.2,1.5,1.4,1.6,1.6,1.3,1.3,1.5,1.4,1.2,1.2,1.5,1.5,1.2,1.3,1.6,1.4,1.2,1.6,1.3,1.3,1.6,1.4,1.2,
1.3,1.6,2.5,1.6,1.4,1.2,1.6,1.3,1.3,1.6,1.5,1.3,1.4,1.6,1.2,1.5,1.5,1.3,1.4,1.7,1.6,1.3,1.3,1.6,1.5,1.3,1.4,1.6,1.7,1.4,1.3,1.6,1.5,1.3,1.4,1.6,1.6,1.3,1.4,1.6,
1.5,1.3,1.3,1.6,1.4,1.7,1.6,1.3,1.4,1.6,1.3,1.5,1.5,1.3,1.4,1.7,1.6,1.3,1.3,1.6,1.5,1.3,1.4,1.6,1.6,1.3,1.5,1.7,1.4,1.6,1.6,1.8,1.9,2.2,2.6,2.8,2.9,2.5,2.7,3.0,
2.8,2.4,2.4,2.8,2.9,2.5,2.6,3.0,3.1,2.7,2.5,2.9,3.0,2.6,2.8,3.2,3.2,2.8,2.6,3.0,3.1,2.7,3.3,2.9,2.9,3.2,3.2,2.8,2.7,3.1,3.4,3.0,3.1,2.7,2.9,3.3,3.3,2.9,3.0,3.3,
3.2,2.9,2.8,3.2,3.1,2.8,3.3,3.0,2.9,3.2,3.2,2.9,3.0,3.3,3.2,2.9,2.8,3.1,3.1,2.8,2.5,2.8,2.9,2.5,2.2,2.6,2.7,2.4,3.3,2.7,2.4,2.8,2.8,2.4,2.3,2.7,2.6,2.3,2.4,2.8,2.5];
const prodEcl2Model2 = [0.9,0.7,0.6,0.8,0.5,0.7,0.7,0.5,0.5,0.7,0.6,0.4,0.4,0.6,0.7,0.5,0.5,0.7,0.6,0.8,1.0,0.8,0.9,1.1,1.2,0.9,0.8,1.0,1.0,0.8,1.1,0.9,0.9,1.1,1.2,0.9,0.8,1.0,1.0,0.8,
1.1,0.9,0.9,1.1,1.2,0.9,1.0,0.8,0.8,1.0,1.1,0.8,0.6,0.8,0.5,0.7,0.8,0.6,0.6,0.8,1.0,0.8,1.2,1.0,0.9,1.1,1.1,0.9,0.8,1.0,1.0,1.2,1.3,1.0,0.9,1.1,1.1,0.9,1.0,1.2,
0.5,0.8,1.0,0.8,1.2,1.0,0.9,1.1,1.1,0.9,0.8,1.0,0.5,0.8,1.0,0.8,1.1,0.9,0.9,1.1,1.2,0.9,1.0,0.8,0.8,1.0,1.1,0.9,1.0,1.2,0.9,1.1,1.2,1.0,1.0,0.8,1.1,0.9,0.9,1.1,
1.0,0.8,1.2,1.0,0.9,1.1,1.1,0.9,0.8,1.0,1.0,0.8,1.3,1.0,1.0,1.2,0.9,1.1,1.1,0.9,1.0,1.2,0.8,1.0,1.2,0.9,1.0,0.8,0.9,1.1,1.1,0.9,1.0,1.2,1.2,1.0,0.9,1.1,1.0,0.8,
1.1,0.9,0.8,1.0,0.6,0.8,1.0,0.8,0.7,0.9,0.5,0.7,0.8,1.0,1.0,0.8,0.7,0.9,0.9,0.7,0.6,0.8,0.8,1.0,0.7,0.9,1.0,0.8,0.6,0.8,0.8,1.0,0.9,1.1,1.0,0.8,1.1,0.9,0.9,1.1,
1.0,0.8,1.2,1.0,0.9,1.1,1.1,0.9,0.8,1.0,1.0,1.2,1.2,0.9,0.9,1.1,1.1,0.9,1.0,1.2,0.8,1.0,1.1,0.9,0.9,1.1,1.0,0.8,1.2,1.0,0.9,1.1,1.1,0.9,1.0,1.2,0.8,1.0,1.0,0.8,
1.1,0.9,0.9,1.1,1.0,0.8,1.2,1.0,0.9,1.1,1.0,0.8,0.8,1.0,1.1,0.9,1.0,1.2,1.2,0.9,0.9,1.1,1.1,0.9,1.3,1.0,0.9,0.7,0.6,0.5,0.5,0.7,0.7,0.5,0.4,0.6,0.6,0.4,0.5,0.7,
0.6,0.4,0.4,0.6,0.7,0.5,0.5,0.7,0.6,0.4,0.4,0.6,0.7,0.5,0.5,0.7,0.6,0.4,0.4,0.6,0.7,0.5,0.5,0.7,0.6,0.4,0.5,0.7,1.0,0.8,0.8,1.0,1.1,0.9,0.9,1.1,1.0,0.8,1.2,1.0,
0.9,1.1,1.1,0.9,1.0,1.2,0.8,1.0,1.2,1.0,0.9,1.1,1.0,0.8,1.1,0.9,0.8,1.0,1.0,0.8,1.2,1.0,0.9,1.1,1.1,0.9,1.0,1.2,0.8,1.0,1.0,0.8,1.3,1.0,0.9,1.1,1.1,0.9,1.0,1.2,
1.2,1.0,0.9,1.1,1.1,0.9,1.0,1.2,1.4,1.1,1.0,1.2,0.9,1.1,1.2,1.0,1.0,1.2,1.1,0.9,0.8,1.0,1.0,1.2,1.1,0.8,0.6,0.7,0.5,0.7,0.7,0.5,0.4,0.6,0.6,0.4,0.5,0.7,0.7,0.5,0.6];

const rowLabels = ["PROA", "PROB", "PROC", "PROD"];
const colTitles = ["ECL1", "ECL2"];
const seriesNames = ["Model1", "Model2"];
const xTickVals = [0, 200, 400, 600, 800, 1000];
const yTickVals = [0, 1, 2, 3, 4, 5];

const rows = [
  [[proaEcl1Model1, proaEcl1Model2], [proaEcl2Model1, proaEcl2Model2]],
  [[probEcl1Model1, probEcl1Model2], [probEcl2Model1, probEcl2Model2]],
  [[procEcl1Model1, procEcl1Model2], [procEcl2Model1, procEcl2Model2]],
  [[prodEcl1Model1, prodEcl1Model2], [prodEcl2Model1, prodEcl2Model2]]
];
const rowColors = [
  ["#0000ff", "#00ffff"],
  ["#ff0000", "#9400d3"],
  ["#008b00", "#00ff00"],
  ["#ffa500", "#670748"]
];

const W = 1137, H = 918;
const FONT = "Liberation Serif";
const colPx = [[195, 601], [682, 1089]];
const rowPx = [[63, 212], [278, 425], [491, 639], [705, 853]];
const legendPx = [[977, 32], [968, 254], [961, 474], [963, 678]];

const traces = [];
const layout = {
  width: W, height: H,
  margin: {l: 0, r: 0, t: 0, b: 0},
  paper_bgcolor: "#fff", plot_bgcolor: "#fff",
  font: {family: FONT, color: "#000", size: 25},
  annotations: [],
  showlegend: true
};

for (let r = 0; r < 4; r++) {
  for (let c = 0; c < 2; c++) {
    const n = r * 2 + c + 1;
    const xa = "x" + (n === 1 ? "" : n);
    const ya = "y" + (n === 1 ? "" : n);
    const legendId = "legend" + (r === 0 ? "" : (r + 1));
    for (let k = 0; k < 2; k++) {
      const ys = rows[r][c][k];
      traces.push({
        x: time.slice(0, ys.length), y: ys,
        type: "scatter", mode: "lines",
        name: seriesNames[k],
        line: {color: rowColors[r][k], width: 1.4},
        xaxis: xa, yaxis: ya,
        showlegend: c === 1,
        legend: legendId,
        hoverinfo: "skip"
      });
    }
    const common = {
      showline: true, linecolor: "#000", linewidth: 1, mirror: "allticks",
      ticks: "inside", ticklen: 10, tickwidth: 1, tickcolor: "#000",
      showgrid: false, zeroline: false, automargin: false,
      tickfont: {family: FONT, size: 25, color: "#000"}
    };
    layout["xaxis" + (n === 1 ? "" : n)] = Object.assign({}, common, {
      domain: [colPx[c][0] / W, colPx[c][1] / W],
      anchor: ya, range: [0, 1000],
      ticklabelstandoff: -4,
      tickmode: "array", tickvals: xTickVals, ticktext: xTickVals.map(String),
      minor: {ticks: "inside", ticklen: 5, tickwidth: 1, tickcolor: "#000", dtick: 100, tick0: 0},
      title: {text: "time (ns)", font: {family: FONT, size: 26, color: "#000"}, standoff: 8}
    });
    layout["yaxis" + (n === 1 ? "" : n)] = Object.assign({}, common, {
      domain: [1 - rowPx[r][1] / H, 1 - rowPx[r][0] / H],
      anchor: xa, range: [0, 5],
      ticklabelstandoff: 3,
      tickmode: "array", tickvals: yTickVals, ticktext: yTickVals.map(String),
      minor: {ticks: "inside", ticklen: 5, tickwidth: 1, tickcolor: "#000", dtick: 0.5, tick0: 0},
      title: {text: "rmsd (Å)", font: {family: FONT, size: 26, color: "#000"}, standoff: 6}
    });
  }
  const lg = {
    x: legendPx[r][0] / W, y: 1 - legendPx[r][1] / H,
    xanchor: "left", yanchor: "top",
    bgcolor: "#fff", bordercolor: "#000", borderwidth: 1,
    font: {family: FONT, size: 24, color: "#000"},
    tracegroupgap: 0, itemwidth: 72,
    entrywidthmode: "pixels", entrywidth: 98
  };
  layout["legend" + (r === 0 ? "" : (r + 1))] = lg;
  layout.annotations.push({
    text: "<b>" + rowLabels[r] + "</b>", xref: "paper", yref: "paper",
    x: 52 / W, y: 1 - ((rowPx[r][0] + rowPx[r][1]) / 2 - 5) / H,
    xanchor: "center", yanchor: "middle", showarrow: false,
    font: {family: FONT, size: 27, color: "#000"}
  });
}
for (let c = 0; c < 2; c++) {
  layout.annotations.push({
    text: "<b>" + colTitles[c] + "</b>", xref: "paper", yref: "paper",
    x: (c === 0 ? 400 : 885) / W, y: 1 - 32 / H,
    xanchor: "center", yanchor: "middle", showarrow: false,
    font: {family: FONT, size: 35, color: "#000"}
  });
}

Plotly.newPlot("chart", traces, layout, {displayModeBar: false, staticPlot: true});
</script>
</body></html>
